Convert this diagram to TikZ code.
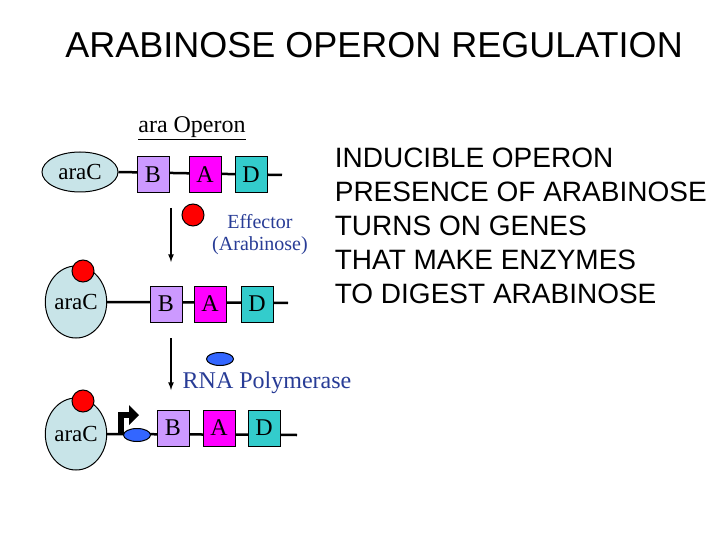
\documentclass[tikz,border=0pt]{standalone}
\usetikzlibrary{shapes.geometric}
\usepackage{fontspec}
\newfontfamily\sansf{Liberation Sans}
\setmainfont{Liberation Serif}
\definecolor{cbody}{RGB}{200,228,232}
\definecolor{cB}{RGB}{204,153,255}
\definecolor{cA}{RGB}{255,0,255}
\definecolor{cD}{RGB}{51,204,204}
\definecolor{cblu}{RGB}{40,60,150}
\definecolor{cpol}{RGB}{51,102,255}
\begin{document}
\begin{tikzpicture}[x=1pt,y=-1pt,line width=1pt,
  gene/.style={draw,minimum width=32pt,minimum height=36pt,inner sep=0pt,font=\fontsize{24}{26}\selectfont},
  arac/.style={draw,ellipse,fill=cbody,inner sep=0pt,font=\fontsize{23}{26}\selectfont},
  dot/.style={draw,circle,fill=red,minimum size=22pt,inner sep=0pt},
  pol/.style={draw,ellipse,fill=cpol,minimum width=27pt,minimum height=13pt,inner sep=0pt},
  down/.style={-latex,line width=1.6pt},
  side/.style={anchor=west,font=\sansf\fontsize{28}{30}\selectfont}]
\useasboundingbox (0,0) rectangle (720,540);
\node[font=\sansf\fontsize{36}{40}\selectfont] (title) at (374,45) {ARABINOSE OPERON REGULATION};
\node[font=\fontsize{24}{26}\selectfont] (op) at (192,128) {\underline{ara Operon}};
% row 1
\node[arac,minimum width=76pt,minimum height=40pt] (c1) at (80,172) {araC};
\coordinate (e1) at (282,175);
\draw[line width=2.5pt] (c1.east) -- (e1);
\node[gene,fill=cB] (b1) at (153,175) {B};
\node[gene,fill=cA] (a1) at (205,175) {A};
\node[gene,fill=cD] (d1) at (251,175) {D};
% arrow 1
\coordinate (s1) at (171,208); \coordinate (t1) at (171,262);
\draw[down] (s1) -- (t1);
\node[dot] (r0) at (193,215) {};
\node[font=\fontsize{20}{22}\selectfont,text=cblu,align=center] (eff) at (260,235) {Effector\\(Arabinose)};
% row 2
\node[arac,minimum width=60pt,minimum height=72pt] (c2) at (76,302) {araC};
\node[dot] (r2) at (83,271) {};
\coordinate (e2) at (288,303);
\draw[line width=2.5pt] (c2.east) -- (e2);
\node[gene,fill=cB] (b2) at (166,304) {B};
\node[gene,fill=cA] (a2) at (210,304) {A};
\node[gene,fill=cD] (d2) at (257,304) {D};
% arrow 2
\coordinate (s2) at (171,338); \coordinate (t2) at (171,390);
\draw[down] (s2) -- (t2);
\node[pol] (p0) at (220,359) {};
\node[font=\fontsize{24}{26}\selectfont,text=cblu] (rna) at (267,383) {RNA Polymerase};
% row 3
\node[arac,minimum width=60pt,minimum height=72pt] (c3) at (76,434) {araC};
\node[dot] (r3) at (83,401) {};
\coordinate (e3) at (297,435);
\draw[line width=2.5pt] (c3.east) -- (e3);
% promoter arrow
\fill (118,435) rectangle (124,412);
\fill (118,412) rectangle (130,418);
\fill (129,405) -- (139,415) -- (129,425) -- cycle;
\node[pol] (p1) at (137,435) {};
\node[gene,fill=cB] (b3) at (173,428) {B};
\node[gene,fill=cA] (a3) at (219,428) {A};
\node[gene,fill=cD] (d3) at (264,428) {D};
% side text
\node[side] (l1) at (331,158) {INDUCIBLE OPERON};
\node[side] (l2) at (331,192) {PRESENCE OF ARABINOSE};
\node[side] (l3) at (331,226) {TURNS ON GENES};
\node[side] (l4) at (331,260) {THAT MAKE ENZYMES};
\node[side] (l5) at (331,294) {TO DIGEST ARABINOSE};
\end{tikzpicture}
\end{document}
